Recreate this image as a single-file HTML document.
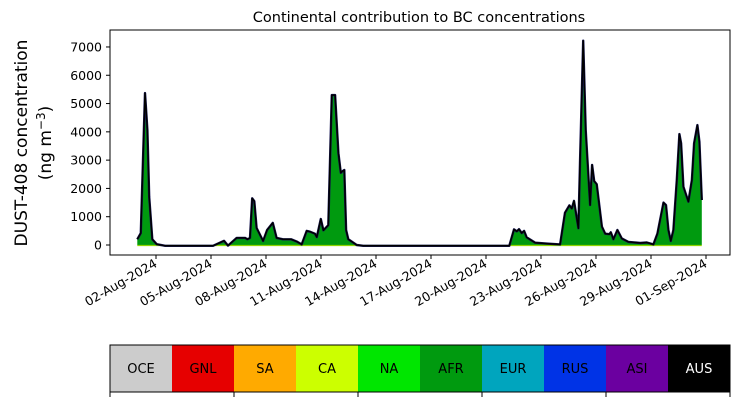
<!DOCTYPE html>
<html><head><meta charset="utf-8"><style>
body{margin:0;background:#fff;}
svg{display:block;font-family:"DejaVu Sans","Liberation Sans",sans-serif;}
</style></head><body>
<svg id="chart" width="739" height="402" viewBox="0 0 739 402">
<text x="419" y="22" font-size="14.5" text-anchor="middle">Continental contribution to BC concentrations</text>
<text transform="translate(27,143) rotate(-90)" font-size="17" text-anchor="middle">DUST-408 concentration</text>
<text transform="translate(51,143) rotate(-90)" font-size="17" text-anchor="middle">(ng m<tspan dy="-6" font-size="12">−3</tspan><tspan dy="6">)</tspan></text>
<g id="series"></g>
<g id="axes"></g>
<rect x="110" y="30" width="620" height="225" fill="none" stroke="#000" stroke-width="1"/>
<g id="cbar"></g>
</svg>
<script>
// day of August (1 = 01-Aug, 32 = 01-Sep)
const days=[0.98,1.17,1.40,1.53,1.63,1.80,2.04,2.5,5.11,5.71,5.93,6.40,6.86,6.98,7.13,7.25,7.36,7.49,7.84,8.06,8.37,8.58,8.93,9.37,9.68,9.95,10.22,10.40,10.67,10.77,10.99,11.13,11.40,11.59,11.77,11.95,12.08,12.16,12.27,12.37,12.49,12.95,13.3,21.27,21.53,21.68,21.80,21.95,22.08,22.22,22.68,23.31,24.04,24.31,24.55,24.68,24.80,25.04,25.13,25.30,25.44,25.68,25.79,25.90,26.04,26.32,26.50,26.73,26.81,26.95,27.17,27.41,27.77,28.41,28.77,29.13,29.35,29.68,29.82,29.95,30.08,30.22,30.41,30.55,30.64,30.77,31.04,31.23,31.35,31.53,31.64,31.77];
const values=[200,420,5370,4060,1700,200,30,-30,-30,150,-20,250,250,200,250,1650,1550,600,140,530,780,250,200,200,120,20,500,470,400,280,920,520,700,5300,5300,3250,2550,2600,2650,530,200,0,-30,-30,550,480,560,420,500,270,80,50,20,1140,1400,1290,1560,590,2900,7220,4070,1410,2830,2260,2150,650,400,380,450,200,530,230,110,70,90,20,400,1500,1410,530,140,530,2300,3920,3590,2060,1530,2300,3590,4240,3650,1590];
const yTicks=[0,1000,2000,3000,4000,5000,6000,7000];
const xTickDays=[2,5,8,11,14,17,20,23,26,29,32];
const xTickLabels=["02-Aug-2024","05-Aug-2024","08-Aug-2024","11-Aug-2024","14-Aug-2024","17-Aug-2024","20-Aug-2024","23-Aug-2024","26-Aug-2024","29-Aug-2024","01-Sep-2024"];
const regions=["OCE","GNL","SA","CA","NA","AFR","EUR","RUS","ASI","AUS"];
const regionColors=["#cccccc","#e60000","#ffaa00","#ccff00","#00e600","#009a0f","#00a5be","#0033e6","#6b00a0","#000000"];

const NS="http://www.w3.org/2000/svg";
const X=d=>156+(d-2)*18.333;
const Y=v=>245-v*0.02829;
function mk(tag,attrs,parent){const e=document.createElementNS(NS,tag);for(const k in attrs)e.setAttribute(k,attrs[k]);parent.appendChild(e);return e;}
const series=document.getElementById('series');
const axes=document.getElementById('axes');
let line="";
days.forEach((d,i)=>{line+=(i?"L":"M")+X(d).toFixed(1)+","+Y(values[i]).toFixed(1);});
const fill=line+"L"+X(days[days.length-1]).toFixed(1)+","+Y(0)+"L"+X(days[0]).toFixed(1)+","+Y(0)+"Z";
const af=mk('path',{d:fill,fill:"#009a0f"},series);


const bl=mk('line',{x1:X(days[0]),x2:X(days[days.length-1]),y1:Y(0)+0.5,y2:Y(0)+0.5,stroke:"#8fd400","stroke-width":1.2},series);


const ol=mk('path',{d:line,fill:"none",stroke:"#1a1a5a","stroke-width":2.4,"stroke-linejoin":"round"},series);


const tl=mk('path',{d:line,fill:"none",stroke:"#000","stroke-width":1.5,"stroke-linejoin":"round"},series);



yTicks.forEach(v=>{
  const t=mk('line',{x1:106,x2:110,y1:Y(v),y2:Y(v),stroke:"#000"},axes);
  
  
  const l=mk('text',{x:102,y:Y(v)+4.5,"font-size":12.5,"text-anchor":"end"},axes);
  l.textContent=v;
  
  
});
xTickDays.forEach((d,i)=>{
  const x=X(d);
  const t=mk('line',{x1:x,x2:x,y1:255,y2:259,stroke:"#000"},axes);
  
  
  const l=mk('text',{transform:`translate(${x+2},${266}) rotate(-30)`,"font-size":12.5,"text-anchor":"end"},axes);
  l.textContent=xTickLabels[i];
  
  
});
const cbar=document.getElementById('cbar');
const w=62;
regions.forEach((r,i)=>{
  const rc=mk('rect',{x:110+i*w,y:345,width:w,height:47,fill:regionColors[i]},cbar);
  
  
  const t=mk('text',{x:110+i*w+w/2,y:373,"font-size":13,"text-anchor":"middle",fill:r==="AUS"?"#fff":"#000"},cbar);
  t.textContent=r;
  
  
});
const fr=mk('rect',{x:110,y:345,width:620,height:47,fill:"none",stroke:"#000"},cbar);


[110,234,358,482,606,730].forEach(x=>{
  const t=mk('line',{x1:x,x2:x,y1:392,y2:397,stroke:"#000"},cbar);
  
  
});
</script>
</body></html>
